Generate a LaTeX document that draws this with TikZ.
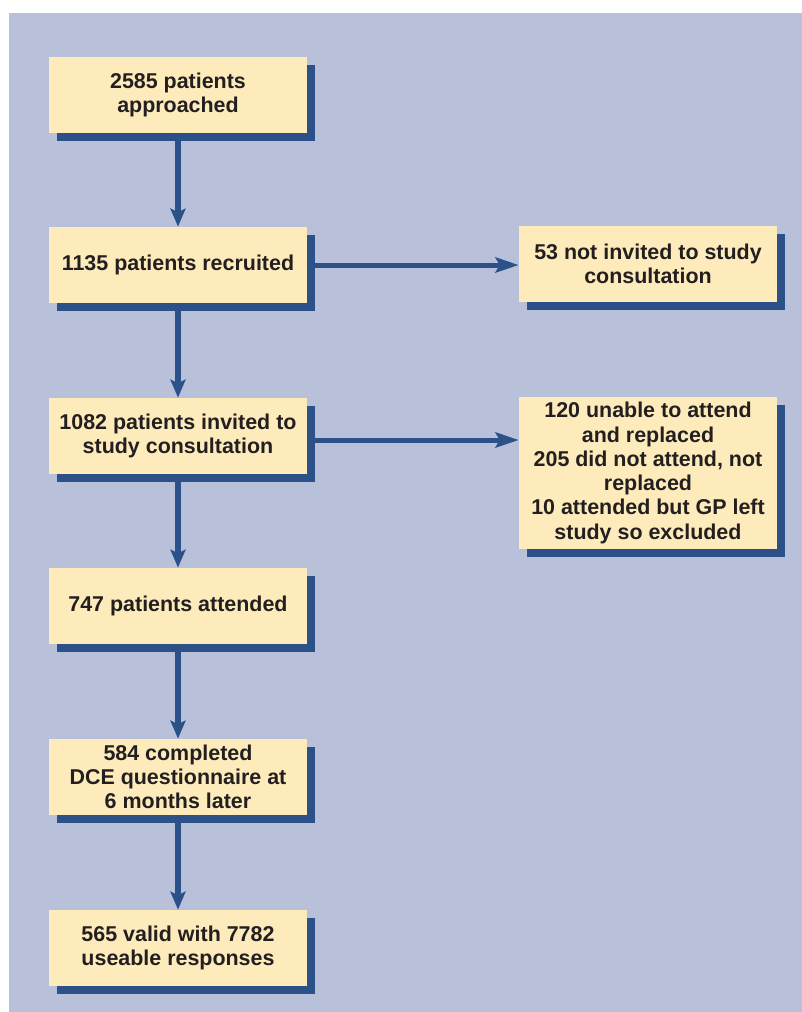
\documentclass[tikz,border=0pt]{standalone}
\usepackage{fontspec}
\setmainfont{Liberation Sans}
\usetikzlibrary{arrows.meta,shadows}

\definecolor{panelblue}{HTML}{B8C0DA}
\definecolor{boxcream}{HTML}{FDEBBB}
\definecolor{shadowblue}{HTML}{2C5189}
\definecolor{inkgray}{HTML}{231F20}

\tikzset{
  flowbox/.style={fill=boxcream, text=inkgray, align=center,
    minimum width=5.16cm, minimum height=1.52cm, inner sep=0pt,
    font=\fontsize{12.2}{13.8}\selectfont\bfseries,
    drop shadow={shadow xshift=0.16cm, shadow yshift=-0.16cm,
      fill=shadowblue, opacity=1}},
  downarr/.style={shadowblue, line width=0.12cm,
    -{Stealth[length=0.36cm,width=0.3cm,inset=0.07cm]}},
  sidearr/.style={shadowblue, line width=0.1cm,
    -{Stealth[length=0.46cm,width=0.3cm,inset=0.08cm]}}
}

\begin{document}
\begin{tikzpicture}[x=0.02cm,y=-0.02cm]
    \useasboundingbox (0,0) rectangle (802,1012);
    \fill[panelblue] (9,13) rectangle (802,1012);

%   main column
    \node[flowbox] (approached) at (178,95) {2585 patients\\approached};
    \node[flowbox] (recruited) at (178,265) {1135 patients recruited};
    \node[flowbox] (invited) at (178,436) {1082 patients invited to\\study consultation};
    \node[flowbox] (attended) at (178,606) {747 patients attended};
    \node[flowbox] (completed) at (178,777) {584 completed\\DCE questionnaire at\\6 months later};
    \node[flowbox] (valid) at (178,948) {565 valid with 7782\\useable responses};

%   side boxes
    \node[flowbox] (notinvited) at (648,264) {53 not invited to study\\consultation};
    \node[flowbox, minimum height=3.04cm] (excluded) at (648,473)
        {120 unable to attend\\and replaced\\205 did not attend, not\\replaced\\10 attended but GP left\\study so excluded};

    \draw[downarr] (approached.south) -- (recruited.north);
    \draw[downarr] (recruited.south) -- (invited.north);
    \draw[downarr] (invited.south) -- (attended.north);
    \draw[downarr] (attended.south) -- (completed.north);
    \draw[downarr] (completed.south) -- (valid.north);

    \draw[sidearr] (recruited.east) -- (recruited.east -| notinvited.west);
    \draw[sidearr] ([yshift=-0.08cm]invited.east) -- ([yshift=-0.08cm]invited.east -| excluded.west);

\end{tikzpicture}
\end{document}
